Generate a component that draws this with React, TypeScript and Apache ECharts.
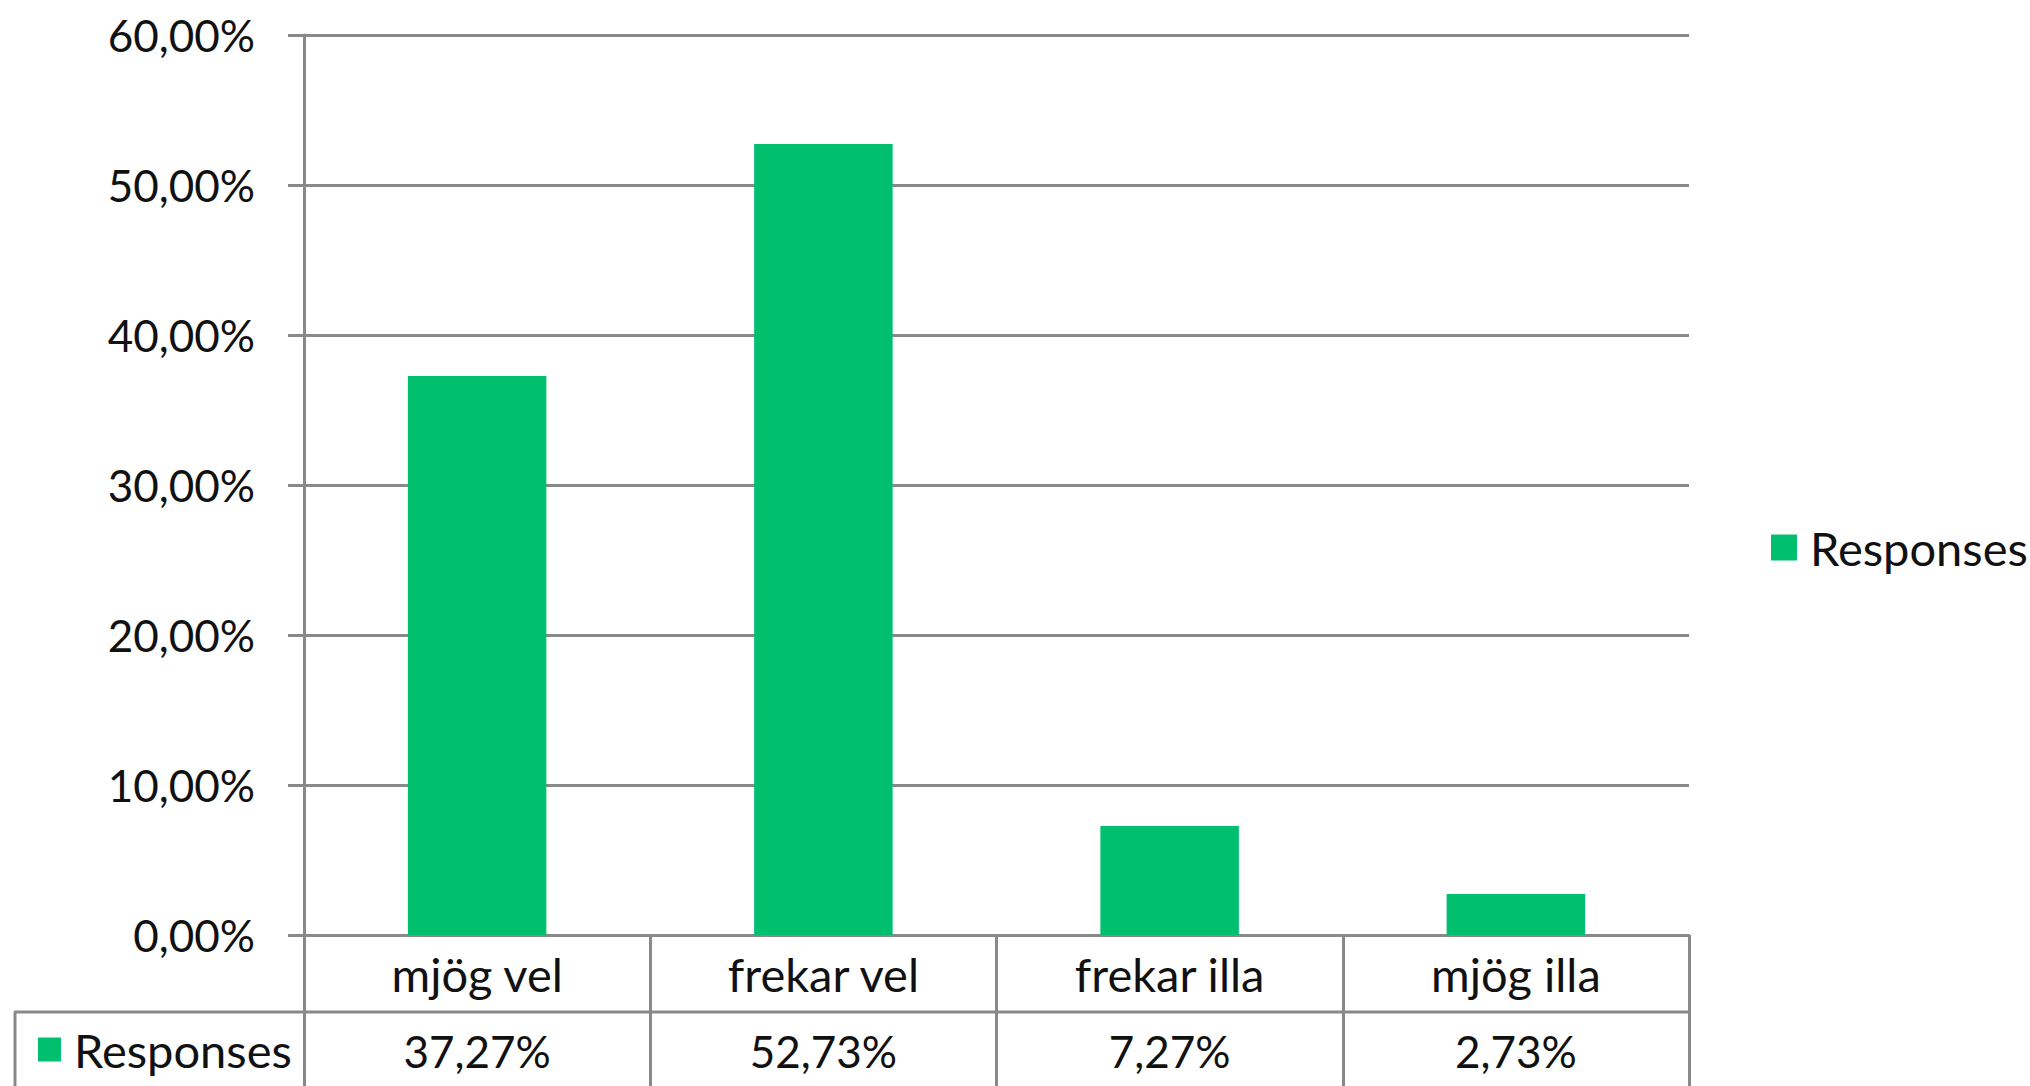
import React, { useEffect, useRef } from "react";
import * as echarts from "echarts";

const categories = ["mjög vel", "frekar vel", "frekar illa", "mjög illa"];
const seriesName = "Responses";
const values = [37.27, 52.73, 7.27, 2.73];
const yTicks = { min: 0, max: 60, interval: 10 };

const fmt = (v: number) => v.toFixed(2).replace(".", ",") + "%";

const GRID = "#898989";
const GREEN = "#00BF6F";
const FONT = "Lato";

export default function App() {
  const ref = useRef<HTMLDivElement>(null);
  useEffect(() => {
    if (!ref.current) return;
    const chart = echarts.init(ref.current, undefined, { renderer: "svg" });
    const textStyle = { fontFamily: FONT, fontSize: 44, color: "#111" };
    const wordStyle = { ...textStyle, fontSize: 47 };
    chart.setOption({
      animation: false,
      backgroundColor: "#fff",
      textStyle: { fontFamily: FONT },
      grid: { left: 304, right: 341, top: 35, bottom: 151, containLabel: false },
      legend: [
        {
          data: [seriesName],
          left: 1766,
          top: 519,
          icon: "rect",
          itemWidth: 26,
          itemHeight: 26,
          textStyle: { ...wordStyle, padding: [0, 0, 0, 8] },
        },
        {
          data: [seriesName],
          left: 33,
          top: 1021,
          icon: "rect",
          itemWidth: 23,
          itemHeight: 24,
          textStyle: { ...wordStyle, padding: [0, 0, 0, 8] },
        },
      ],
      xAxis: [
        {
          type: "category",
          data: categories,
          axisLine: { show: true, lineStyle: { color: GRID, width: 3 } },
          axisTick: { show: true, length: 151, lineStyle: { color: GRID, width: 3 } },
          axisLabel: { ...wordStyle, margin: 15 },
        },
        {
          type: "category",
          data: values.map(fmt),
          position: "bottom",
          axisLine: { show: false },
          axisTick: { show: false },
          axisLabel: { ...textStyle, margin: 94 },
        },
      ],
      yAxis: {
        type: "value",
        min: yTicks.min,
        max: yTicks.max,
        interval: yTicks.interval,
        axisLine: { show: true, lineStyle: { color: GRID, width: 3 } },
        axisTick: { show: true, length: 16, lineStyle: { color: GRID, width: 3 } },
        splitLine: { show: true, lineStyle: { color: GRID, width: 3 } },
        axisLabel: { ...textStyle, margin: 49, formatter: (v: number) => fmt(v) },
      },
      series: [
        {
          name: seriesName,
          type: "bar",
          data: values,
          barCategoryGap: "60%",
          itemStyle: { color: GREEN },
        },
      ],
      graphic: [
        {
          type: "line",
          shape: { x1: 14, y1: 1012, x2: 1689, y2: 1012 },
          style: { stroke: GRID, lineWidth: 3 },
        },
        {
          type: "line",
          shape: { x1: 15, y1: 1012, x2: 15, y2: 1086 },
          style: { stroke: GRID, lineWidth: 3 },
        },
      ],
    });
    return () => chart.dispose();
  }, []);
  return (
    <div
      ref={ref}
      style={{ position: "fixed", left: 0, top: 0, width: 2030, height: 1086 }}
    />
  );
}
